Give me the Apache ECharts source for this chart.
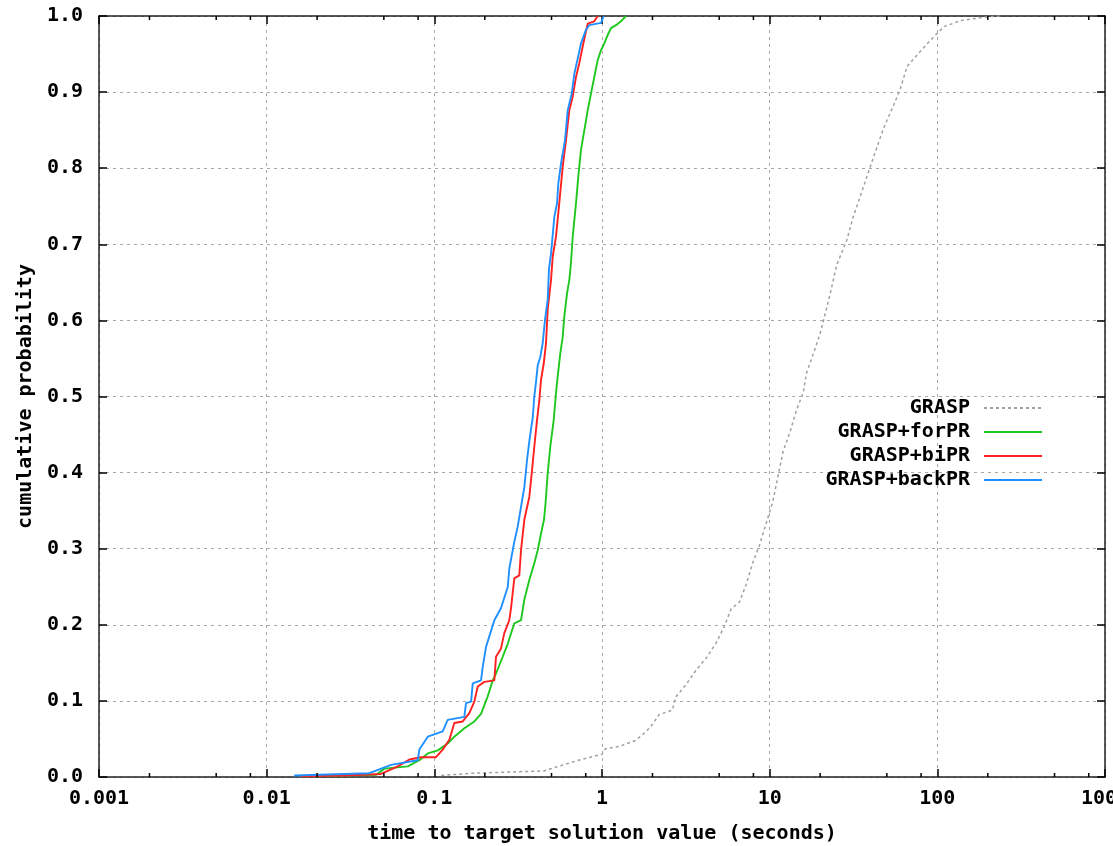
<!DOCTYPE html>
<html>
<head>
<meta charset="utf-8">
<script src="https://cdn.jsdelivr.net/npm/echarts@6/dist/echarts.min.js"></script>
<style>
  html, body { margin: 0; padding: 0; background: #fff; overflow: hidden; }
  #chart { width: 1113px; height: 846px; }
</style>
</head>
<body>
<div id="chart"></div>
<script>
// tick labels
var xTickLabels = ['0.001', '0.01', '0.1', '1', '10', '100', '1000'];
var yTickLabels = ['0.0', '0.1', '0.2', '0.3', '0.4', '0.5', '0.6', '0.7', '0.8', '0.9', '1.0'];
var minorDecades = [0.001, 0.01, 0.1, 1, 10, 100];
var minorSteps = [2, 5, 8];

var seriesNames = ['GRASP', 'GRASP+forPR', 'GRASP+biPR', 'GRASP+backPR'];

// GRASP (time in seconds / cumulative probability)
var graspTime = [0.11, 0.17, 0.45, 0.55, 0.724, 1.0, 1.047, 1.259, 1.585, 1.82, 1.995, 2.19, 2.63, 2.75, 3.16, 3.63, 4.17, 4.79, 5.37, 5.89, 6.61, 7.24, 7.94, 8.71, 9.55, 10.47, 11.2, 12.0, 13.2, 14.45, 15.85, 16.6, 18.2, 19.95, 21.4, 22.9, 25.1, 26.9, 28.8, 31.6, 34.7, 38.0, 41.7, 47.9, 54.9, 60.3, 66.1, 79.4, 95.5, 109.6, 138, 199.5, 239];
var graspProb = [0.002, 0.005, 0.008, 0.014, 0.022, 0.030, 0.037, 0.040, 0.048, 0.059, 0.069, 0.082, 0.088, 0.105, 0.121, 0.140, 0.156, 0.176, 0.198, 0.221, 0.230, 0.253, 0.282, 0.305, 0.334, 0.363, 0.395, 0.427, 0.453, 0.482, 0.505, 0.531, 0.556, 0.582, 0.608, 0.634, 0.673, 0.689, 0.705, 0.737, 0.763, 0.789, 0.815, 0.853, 0.883, 0.905, 0.934, 0.954, 0.973, 0.986, 0.994, 0.999, 1.0];

// GRASP+forPR
var forTime = [0.0161, 0.045, 0.0503, 0.0694, 0.0814, 0.0914, 0.1048, 0.1202, 0.1316, 0.151, 0.1732, 0.1899, 0.2082, 0.2229, 0.2333, 0.2558, 0.274, 0.2999, 0.3289, 0.3441, 0.3685, 0.3947, 0.4136, 0.4328, 0.4509, 0.4603, 0.4744, 0.4916, 0.5152, 0.5315, 0.5441, 0.5641, 0.5829, 0.5957, 0.6181, 0.6383, 0.6533, 0.6688, 0.6998, 0.722, 0.7494, 0.7916, 0.8217, 0.8682, 0.8997, 0.9427, 0.9864, 1.032, 1.081, 1.131, 1.212, 1.298, 1.39];
var forProb = [0.001, 0.003, 0.011, 0.014, 0.022, 0.031, 0.035, 0.044, 0.053, 0.064, 0.073, 0.083, 0.106, 0.127, 0.136, 0.158, 0.175, 0.202, 0.206, 0.233, 0.259, 0.281, 0.298, 0.320, 0.338, 0.359, 0.399, 0.434, 0.469, 0.504, 0.526, 0.557, 0.578, 0.605, 0.635, 0.653, 0.676, 0.710, 0.754, 0.789, 0.824, 0.855, 0.876, 0.903, 0.920, 0.942, 0.955, 0.964, 0.975, 0.984, 0.988, 0.993, 1.0];

// GRASP+biPR
var biTime = [0.016, 0.029, 0.0481, 0.0605, 0.071, 0.0834, 0.1023, 0.1122, 0.1229, 0.1316, 0.1477, 0.1617, 0.1732, 0.1815, 0.1987, 0.2279, 0.2333, 0.2498, 0.2615, 0.28, 0.2867, 0.2999, 0.3212, 0.3289, 0.3441, 0.3685, 0.3808, 0.3947, 0.4097, 0.4228, 0.4328, 0.4491, 0.4635, 0.4744, 0.4965, 0.5082, 0.5315, 0.5562, 0.5829, 0.6101, 0.6383, 0.6688, 0.6998, 0.7321, 0.7671, 0.8217, 0.8997, 0.9427];
var biProb = [0.001, 0.002, 0.004, 0.014, 0.023, 0.026, 0.026, 0.036, 0.049, 0.071, 0.073, 0.084, 0.099, 0.119, 0.125, 0.127, 0.158, 0.169, 0.189, 0.206, 0.222, 0.261, 0.265, 0.298, 0.338, 0.368, 0.399, 0.434, 0.469, 0.495, 0.522, 0.543, 0.570, 0.614, 0.653, 0.684, 0.710, 0.754, 0.802, 0.837, 0.876, 0.894, 0.920, 0.938, 0.960, 0.990, 0.993, 1.0];

// GRASP+backPR
var backTime = [0.0146, 0.041, 0.0552, 0.0796, 0.0814, 0.0914, 0.1122, 0.1202, 0.151, 0.1545, 0.1656, 0.1695, 0.1899, 0.1945, 0.2034, 0.228, 0.25, 0.2742, 0.28, 0.2999, 0.3142, 0.3289, 0.3443, 0.3573, 0.3685, 0.3864, 0.3947, 0.404, 0.4137, 0.4286, 0.4429, 0.4572, 0.4745, 0.483, 0.4966, 0.5198, 0.5394, 0.5489, 0.5695, 0.6017, 0.6244, 0.6597, 0.6836, 0.7161, 0.7494, 0.8027, 0.8401, 0.9864, 1.0235];
var backProb = [0.002, 0.005, 0.016, 0.022, 0.036, 0.053, 0.060, 0.075, 0.079, 0.097, 0.099, 0.123, 0.127, 0.145, 0.171, 0.206, 0.222, 0.250, 0.274, 0.309, 0.329, 0.355, 0.381, 0.417, 0.441, 0.473, 0.500, 0.519, 0.541, 0.552, 0.570, 0.601, 0.627, 0.668, 0.688, 0.736, 0.754, 0.780, 0.806, 0.837, 0.876, 0.898, 0.924, 0.944, 0.964, 0.982, 0.988, 0.991, 1.0];

function pairs(xs, ys) {
    var out = [];
    xs.forEach(function (x, i) { out.push([x, ys[i]]); });
    return out;
}

var minorTicks = [];
minorDecades.forEach(function (d) {
    minorSteps.forEach(function (m) { minorTicks.push([d * m, 0]); });
});

var font = 'DejaVu Sans Mono';
var fs = 20;
var gridLine = { show: true, lineStyle: { color: '#a8a8a8', type: [3, 4], width: 1 } };
var frame = { show: true, onZero: false, lineStyle: { color: '#222', width: 1.5 } };
var majorTick = { show: true, inside: true, length: 8, lineStyle: { color: '#000', width: 1.5 } };

var myChart = echarts.init(document.getElementById('chart'));
var option = {
    animation: false,
    backgroundColor: '#fff',
    textStyle: { fontFamily: font, fontWeight: 'bold', color: '#000' },
    grid: { left: 99, right: 8, top: 16, bottom: 69, containLabel: false, outerBoundsMode: 'none' },
    legend: {
        data: seriesNames,
        orient: 'vertical',
        align: 'right',
        right: 70,
        top: 398,
        padding: 0,
        itemWidth: 58,
        itemHeight: 14,
        itemGap: 4,
        itemStyle: { opacity: 0 },
        textStyle: { fontFamily: font, fontWeight: 'bold', fontSize: fs, color: '#000', padding: [0, 9, 0, 0] }
    },
    xAxis: [{
        type: 'log',
        logBase: 10,
        min: 0.001,
        max: 1000,
        splitNumber: 6,
        name: 'time to target solution value (seconds)',
        nameLocation: 'middle',
        nameGap: 47,
        nameTextStyle: { fontFamily: font, fontWeight: 'bold', fontSize: fs, color: '#000' },
        axisLine: frame,
        axisTick: majorTick,
        axisLabel: {
            margin: 12,
            fontFamily: font, fontWeight: 'bold', fontSize: fs, color: '#000',
            formatter: function (v) { return xTickLabels[Math.round(Math.log10(v)) + 3]; }
        },
        splitLine: gridLine
    }, {
        type: 'log',
        logBase: 10,
        min: 0.001,
        max: 1000,
        splitNumber: 6,
        position: 'top',
        axisLine: frame,
        axisTick: majorTick,
        axisLabel: { show: false },
        splitLine: { show: false }
    }],
    yAxis: [{
        type: 'value',
        min: 0,
        max: 1,
        interval: 0.1,
        name: 'cumulative probability',
        nameLocation: 'middle',
        nameGap: 57,
        nameTextStyle: { fontFamily: font, fontWeight: 'bold', fontSize: fs, color: '#000' },
        axisLine: frame,
        axisTick: majorTick,
        axisLabel: {
            margin: 16,
            fontFamily: font, fontWeight: 'bold', fontSize: fs, color: '#000',
            formatter: function (v) { return yTickLabels[Math.round(v * 10)]; }
        },
        splitLine: gridLine
    }, {
        type: 'value',
        min: 0,
        max: 1,
        interval: 0.1,
        position: 'right',
        axisLine: frame,
        axisTick: majorTick,
        axisLabel: { show: false },
        splitLine: { show: false }
    }],
    series: [{
        name: seriesNames[0],
        type: 'line',
        data: pairs(graspTime, graspProb),
        symbol: 'none',
        color: '#a0a0a0',
        lineStyle: { color: '#a0a0a0', width: 1.5, type: [3, 3] }
    }, {
        name: seriesNames[1],
        type: 'line',
        data: pairs(forTime, forProb),
        symbol: 'none',
        color: '#1ec81e',
        lineStyle: { color: '#1ec81e', width: 1.9 }
    }, {
        name: seriesNames[2],
        type: 'line',
        data: pairs(biTime, biProb),
        symbol: 'none',
        color: '#ff2020',
        lineStyle: { color: '#ff2020', width: 1.9 }
    }, {
        name: seriesNames[3],
        type: 'line',
        data: pairs(backTime, backProb),
        symbol: 'none',
        color: '#2090ff',
        lineStyle: { color: '#2090ff', width: 1.9 }
    }, {
        type: 'custom',
        silent: true,
        clip: false,
        z: 10,
        data: minorTicks,
        renderItem: function (params, api) {
            var v = api.value(0);
            var b = api.coord([v, 0]);
            var t = api.coord([v, 1]);
            var st = { stroke: '#000', lineWidth: 1.5 };
            return {
                type: 'group',
                children: [
                    { type: 'line', shape: { x1: b[0], y1: b[1], x2: b[0], y2: b[1] - 4 }, style: st },
                    { type: 'line', shape: { x1: t[0], y1: t[1], x2: t[0], y2: t[1] + 4 }, style: st }
                ]
            };
        }
    }]
};
myChart.setOption(option);
</script>
</body>
</html>
